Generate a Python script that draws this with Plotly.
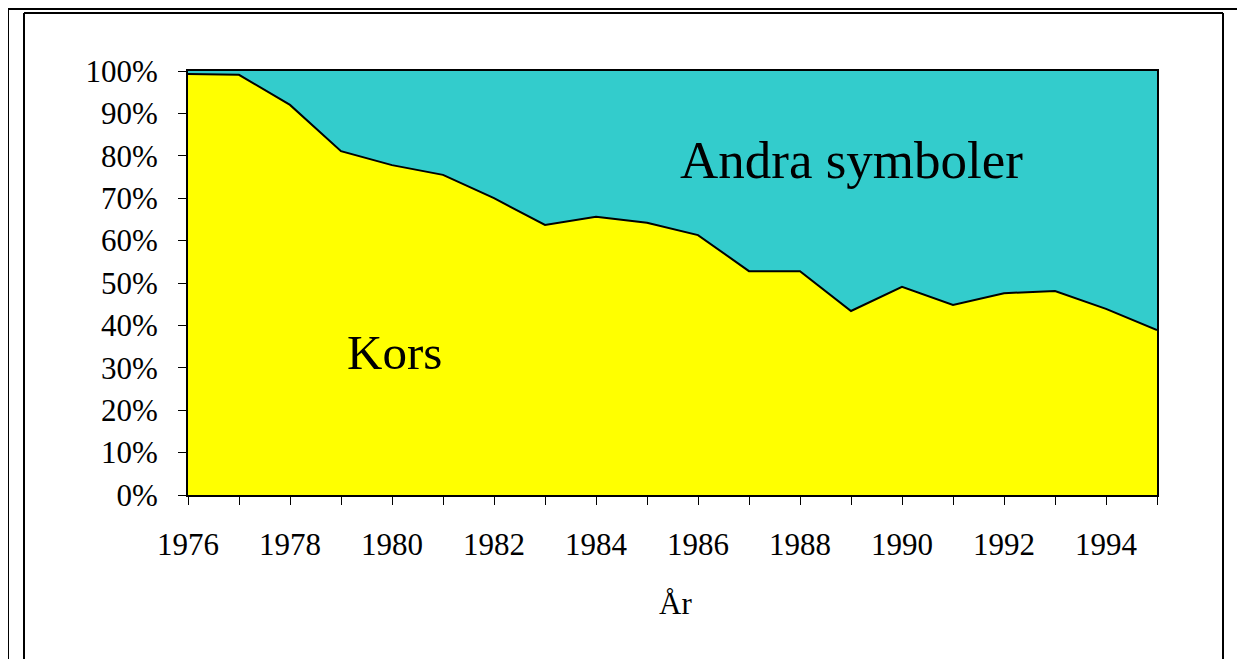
import plotly.graph_objects as go

years = list(range(1976, 1996))
kors = [99.3, 99.1, 92.0, 81.1, 77.8, 75.5, 70.0, 63.7, 65.6, 64.2,
        61.3, 52.8, 52.8, 43.4, 49.1, 44.8, 47.6, 48.1, 43.9, 38.9]
andra = [round(100 - v, 1) for v in kors]
x_tickvals = list(range(1976, 1996, 2))
x_ticktext = [str(v) for v in x_tickvals]
y_tickvals = list(range(0, 101, 10))
y_ticktext = [f"{v}%" for v in y_tickvals]

FONT = "Liberation Serif, Times New Roman, serif"

OFF = 8  # page body margin
W, H = 1245 - OFF, 659 - OFF
L, R, T, B = 188 - OFF, 1157 - OFF, 71 - OFF, 495 - OFF

def px(x):
    return (x - OFF - L) / (R - L)

def py(y):
    return (B - (y - OFF)) / (B - T)

fig = go.Figure()
fig.add_trace(go.Scatter(x=years, y=kors, stackgroup="s", mode="lines",
                         line=dict(color="black", width=2),
                         fillcolor="#FFFF00", name="Kors", hoverinfo="x+y"))
fig.add_trace(go.Scatter(x=years, y=andra, stackgroup="s", mode="lines",
                         line=dict(color="#33CCCC", width=0),
                         fillcolor="#33CCCC", name="Andra symboler", hoverinfo="x+y"))

fig.add_annotation(x=1980.05, y=33.5, text="Kors", showarrow=False,
                   xanchor="center", yanchor="middle",
                   font=dict(family=FONT, size=49, color="black"))
fig.add_annotation(x=1989.0, y=79.0, text="Andra symboler", showarrow=False,
                   xanchor="center", yanchor="middle",
                   font=dict(family=FONT, size=53, color="black"))
fig.add_annotation(xref="paper", yref="paper", x=px(675), y=py(603), text="År",
                   showarrow=False, xanchor="center", yanchor="middle",
                   font=dict(family=FONT, size=31, color="black"))

line = dict(color="black", width=2)
shapes = [
    dict(type="line", xref="paper", yref="paper", x0=px(8), x1=px(1260), y0=py(9), y1=py(9), line=line),
    dict(type="line", xref="paper", yref="paper", x0=px(8), x1=px(8), y0=py(9), y1=py(680), line=line),
    dict(type="line", xref="paper", yref="paper", x0=px(24), x1=px(1223), y0=py(13), y1=py(13), line=line),
    dict(type="line", xref="paper", yref="paper", x0=px(24), x1=px(24), y0=py(13), y1=py(680), line=line),
    dict(type="line", xref="paper", yref="paper", x0=px(1223), x1=px(1223), y0=py(13), y1=py(680), line=line),
]

fig.update_layout(
    width=W, height=H,
    margin=dict(l=L, r=W - R, t=T, b=H - B),
    paper_bgcolor="white", plot_bgcolor="white",
    showlegend=False,
    shapes=shapes,
    font=dict(family=FONT, color="black"),
    xaxis=dict(range=[1976, 1995], tickvals=x_tickvals, ticktext=x_ticktext,
               ticks="outside", ticklen=8, tickwidth=1, tickcolor="black",
               minor=dict(dtick=1, tick0=1976, ticks="outside", ticklen=8, tickwidth=1, tickcolor="black", showgrid=False),
               showline=True, linecolor="black", linewidth=2, mirror=True,
               showgrid=False, zeroline=False, ticklabelstandoff=13,
               tickfont=dict(family=FONT, size=31, color="black")),
    yaxis=dict(range=[0, 100], tickvals=y_tickvals, ticktext=y_ticktext,
               ticks="outside", ticklen=8, tickwidth=1, tickcolor="black",
               showline=True, linecolor="black", linewidth=2, mirror=True,
               showgrid=False, zeroline=False, ticklabelstandoff=14,
               tickfont=dict(family=FONT, size=31, color="black")),
)

fig.write_html("out.html")
